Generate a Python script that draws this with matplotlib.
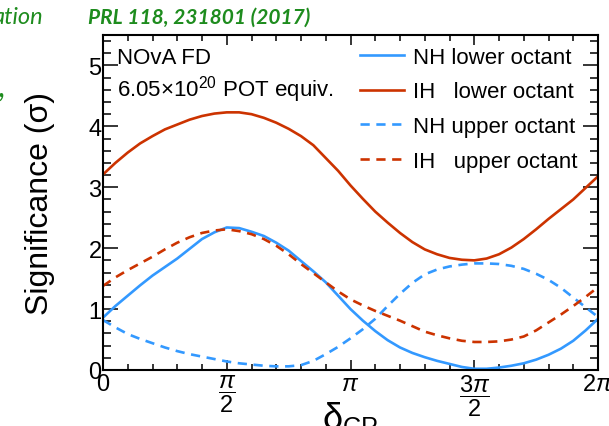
import numpy as np
import matplotlib
matplotlib.use("Agg")
import matplotlib.pyplot as plt
from matplotlib.ticker import MultipleLocator

plt.rcParams['font.family'] = ['Liberation Sans', 'DejaVu Sans']
plt.rcParams['mathtext.fontset'] = 'custom'
plt.rcParams['mathtext.rm'] = 'Liberation Sans'
plt.rcParams['mathtext.it'] = 'Liberation Sans:italic'

# delta_CP in units of pi, steps of pi/20
delta_pi = np.round(np.arange(0, 2.001, 0.05), 2)

nh_lower = [0.86, 1.05, 1.22, 1.39, 1.55, 1.69, 1.83, 1.99, 2.15, 2.26, 2.34,
            2.33, 2.27, 2.20, 2.09, 1.96, 1.79, 1.62, 1.44, 1.22, 1.00,
            0.81, 0.64, 0.49, 0.37, 0.28, 0.21, 0.15, 0.10, 0.05, 0.02,
            0.02, 0.04, 0.07, 0.11, 0.17, 0.25, 0.35, 0.48, 0.65, 0.84]
ih_lower = [3.21, 3.40, 3.57, 3.72, 3.84, 3.95, 4.03, 4.11, 4.17, 4.21, 4.23,
            4.23, 4.20, 4.14, 4.06, 3.96, 3.84, 3.69, 3.48, 3.27, 3.03,
            2.81, 2.60, 2.42, 2.25, 2.10, 1.98, 1.90, 1.84, 1.81, 1.80,
            1.83, 1.90, 2.01, 2.15, 2.31, 2.48, 2.64, 2.80, 2.99, 3.18]
nh_upper = [0.82, 0.70, 0.59, 0.51, 0.44, 0.37, 0.31, 0.26, 0.22, 0.18, 0.14,
            0.11, 0.09, 0.07, 0.06, 0.06, 0.08, 0.15, 0.26, 0.38, 0.52,
            0.67, 0.84, 1.05, 1.25, 1.43, 1.57, 1.65, 1.70, 1.73, 1.75,
            1.75, 1.74, 1.71, 1.66, 1.58, 1.48, 1.35, 1.19, 1.03, 0.87]
ih_upper = [1.38, 1.52, 1.64, 1.75, 1.86, 1.98, 2.09, 2.18, 2.25, 2.29, 2.31,
            2.28, 2.23, 2.15, 2.04, 1.90, 1.74, 1.59, 1.44, 1.29, 1.16,
            1.06, 0.97, 0.89, 0.81, 0.72, 0.63, 0.57, 0.52, 0.48, 0.46,
            0.46, 0.47, 0.50, 0.55, 0.65, 0.78, 0.91, 1.05, 1.20, 1.36]

xtick_pos = [0, 0.5, 1.0, 1.5, 2.0]
xtick_lab = [r'0', r'$\dfrac{\pi}{2}$', r'$\pi$', r'$\dfrac{3\pi}{2}$', r'2$\pi$']

blue = '#3399ff'
red = '#cc3300'
green = '#1e8c1e'

fig = plt.figure(figsize=(6.09, 4.27), dpi=100)
ax = fig.add_axes([103/609, 1-371/427, 495/609, 335/427])

dash = (0, (3.5, 2.5))
ax.plot(delta_pi, nh_lower, color=blue, lw=1.9, label='NH lower octant')
ax.plot(delta_pi, ih_lower, color=red, lw=1.9, label='IH   lower octant')
ax.plot(delta_pi, nh_upper, color=blue, lw=1.9, ls=dash, label='NH upper octant')
ax.plot(delta_pi, ih_upper, color=red, lw=1.9, ls=dash, label='IH   upper octant')

ax.set_xlim(0, 2)
ax.set_ylim(0, 5.5)
ax.xaxis.set_major_locator(MultipleLocator(0.5))
ax.xaxis.set_minor_locator(MultipleLocator(0.1))
ax.yaxis.set_major_locator(MultipleLocator(1))
ax.yaxis.set_minor_locator(MultipleLocator(0.2))
ax.set_xticks(xtick_pos)
ax.set_xticklabels(xtick_lab)
ax.set_yticks([0, 1, 2, 3, 4, 5])
ax.set_yticklabels(['0', '1', '2', '3', '4', '5'])

for s in ax.spines.values():
    s.set_linewidth(1.5)
ax.tick_params(axis='both', which='both', direction='in', top=True, right=True, width=1.1)
ax.tick_params(axis='y', which='major', length=11, labelsize=17, pad=1)
ax.tick_params(axis='y', which='minor', length=5.5)
ax.tick_params(axis='x', which='major', length=7, labelsize=17, pad=2)
ax.tick_params(axis='x', which='minor', length=4)

ax.set_ylabel('Significance (σ)', fontsize=23, labelpad=24)
ax.set_xlabel(r'δ$_{\mathrm{CP}}$', fontsize=26, labelpad=-14)

ax.text(0.028, 0.965, 'NOvA FD', transform=ax.transAxes, fontsize=16, va='top')
ax.text(0.028, 0.885, r'6.05$\times$10$^{20}$ POT equiv.', transform=ax.transAxes,
        fontsize=16, va='top')

ax.legend(loc='upper right', bbox_to_anchor=(0.99, 1.012), frameon=False, fontsize=16,
          handlelength=2.0, handletextpad=0.4, labelspacing=0.62, borderaxespad=0.3)

fig.text(88/609, 1-18/427, 'PRL 118, 231801 (2017)', color=green, fontsize=15,
         fontweight='bold', style='italic', family='Lato', va='center', ha='left')
fig.text(-8/609, 1-18/427, 'ation', color=green, fontsize=17, style='italic',
         family='Lato', va='center', ha='left')
fig.text(-2/609, 1-88/427, ',', color=green, fontsize=22, style='italic',
         family='Lato', va='center', ha='left')

fig.savefig('out.png', dpi=100)
